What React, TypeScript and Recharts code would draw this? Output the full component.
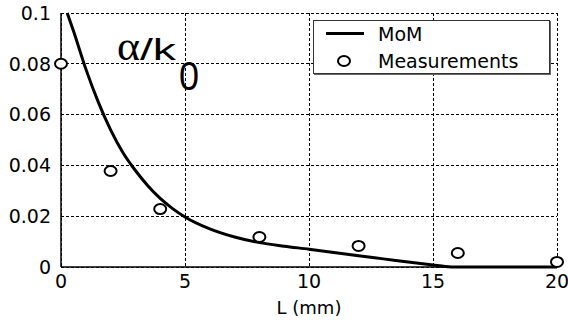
import React from "react"
import { ComposedChart, Line, Scatter, XAxis, YAxis, CartesianGrid, Legend } from "recharts"

// MoM curve
const momL = [0.25, 0.5, 1, 1.5, 2, 2.5, 3, 3.5, 4, 4.5, 5, 6, 7, 8, 9, 10, 11, 12, 13, 14, 15, 15.5, 16, 17, 18, 19, 20]
const momAlpha = [
  0.1, 0.093, 0.078, 0.065, 0.054, 0.045, 0.038, 0.032, 0.027, 0.023, 0.0197, 0.015, 0.0118, 0.0096, 0.0082,
  0.007, 0.0057, 0.0044, 0.0032, 0.002, 0.0008, 0.0002, 0, 0, 0, 0, 0,
]

// measured points
const measL = [0, 2, 4, 8, 12, 16, 20]
const measAlpha = [0.08, 0.0378, 0.0228, 0.0118, 0.0083, 0.0055, 0.002]

const xTicks = [0, 5, 10, 15, 20]
const yTicks = [0, 0.02, 0.04, 0.06, 0.08, 0.1]
const yTickLabels = ["0", "0.02", "0.04", "0.06", "0.08", "0.1"]
const seriesNames = ["MoM", "Measurements"]

const momData = momL.map((x, i) => ({ x, y: momAlpha[i] }))
const measData = measL.map((x, i) => ({ x, y: measAlpha[i] }))

const FONT = "'DejaVu Sans', sans-serif"

const Ring = (props: any) => {
  const { cx, cy } = props
  if (cx == null || cy == null) return null
  return <ellipse cx={cx} cy={cy} rx={6} ry={5} fill="#fff" stroke="#000" strokeWidth={2} />
}

// fixed-order legend box, MoM line first then the measurement ring
const LegendBox = () => (
  <div
    style={{
      position: "relative",
      width: 237,
      height: 54,
      boxSizing: "border-box",
      border: "1px solid #333",
      boxShadow: "1px 1px 0 #666",
      background: "#fff",
      fontFamily: FONT,
      fontSize: 19,
      color: "#000",
    }}
  >
    <span style={{ position: "absolute", left: 12, top: 11, width: 38, height: 3, background: "#000" }} />
    <span style={{ position: "absolute", left: 64, top: 0, lineHeight: "26px" }}>{seriesNames[0]}</span>
    <svg style={{ position: "absolute", left: 22, top: 33 }} width={16} height={14}>
      <ellipse cx={8} cy={7} rx={6} ry={5} fill="#fff" stroke="#000" strokeWidth={2} />
    </svg>
    <span style={{ position: "absolute", left: 64, top: 27, lineHeight: "26px" }}>{seriesNames[1]}</span>
  </div>
)

export default function App() {
  return (
    <div style={{ position: "absolute", left: 0, top: 0, width: 568, height: 324, background: "#fff" }}>
      <ComposedChart width={568} height={324} margin={{ top: 13, right: 11, left: 0, bottom: 0 }}>
        <CartesianGrid stroke="#000" strokeDasharray="3 2" strokeWidth={1} shapeRendering="crispEdges" />
        <XAxis
          dataKey="x"
          type="number"
          domain={[0, 20]}
          ticks={xTicks}
          height={57}
          tickLine={false}
          axisLine={{ stroke: "#000", strokeWidth: 1.5 }}
          tick={{ fill: "#000", fontSize: 19, fontFamily: FONT }}
          label={{ value: "L (mm)", position: "insideBottom", offset: 10, fill: "#000", fontSize: 18, fontFamily: FONT }}
        />
        <YAxis
          dataKey="y"
          type="number"
          domain={[0, 0.1]}
          ticks={yTicks}
          width={61}
          tickLine={false}
          tickMargin={4}
          axisLine={{ stroke: "#000", strokeWidth: 1.5 }}
          tick={{ fill: "#000", fontSize: 19, fontFamily: FONT }}
          tickFormatter={(v: number) => yTickLabels[yTicks.indexOf(v)] ?? String(v)}
        />
        <Legend
          layout="vertical"
          align="center"
          verticalAlign="middle"
          wrapperStyle={{ left: 313, top: 20, width: 237, height: 54 }}
          content={<LegendBox />}
        />
        <Line
          data={momData}
          dataKey="y"
          name={seriesNames[0]}
          type="monotone"
          stroke="#000"
          strokeWidth={3}
          dot={false}
          activeDot={false}
          isAnimationActive={false}
        />
        <Scatter
          data={measData}
          dataKey="y"
          name={seriesNames[1]}
          fill="#fff"
          stroke="#000"
          shape={<Ring />}
          isAnimationActive={false}
        />
      </ComposedChart>
      <svg
        width={568}
        height={324}
        style={{ position: "absolute", left: 0, top: 0, pointerEvents: "none" }}
      >
        <text x={117} y={60} fontFamily="'Liberation Serif', 'DejaVu Serif', serif" fontSize={42} textLength={23} lengthAdjust="spacingAndGlyphs">
          α
        </text>
        <text x={140} y={60} fontFamily="'Liberation Sans', Arial, sans-serif" fontSize={29} textLength={36} lengthAdjust="spacingAndGlyphs">
          /k
        </text>
        <text x={179} y={90} fontFamily="'Liberation Sans', Arial, sans-serif" fontSize={40} textLength={20} lengthAdjust="spacingAndGlyphs">
          0
        </text>
      </svg>
    </div>
  )
}
